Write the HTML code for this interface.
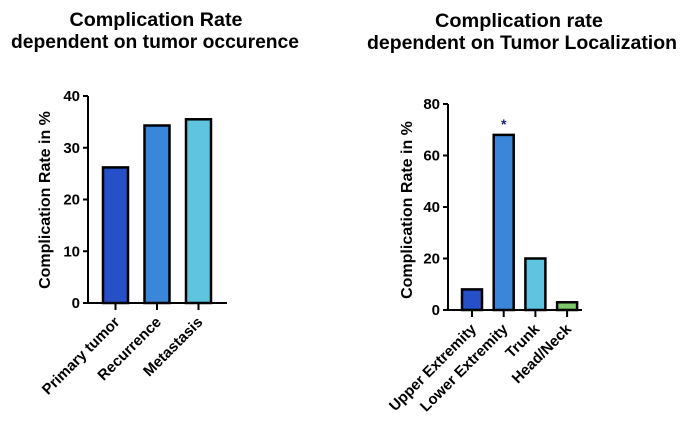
<!DOCTYPE html>
<html><head><meta charset="utf-8"><style>
body{margin:0;background:#fff;}
svg{display:block;font-family:"Liberation Sans",Arial,sans-serif;font-weight:bold;}
</style></head><body>
<svg id="c" width="685" height="423">
<text x="156" y="26" font-size="19" text-anchor="middle" textLength="173" lengthAdjust="spacingAndGlyphs">Complication Rate</text>
<text x="155" y="48" font-size="19" text-anchor="middle" textLength="288" lengthAdjust="spacingAndGlyphs">dependent on tumor occurence</text>
<text x="519" y="27" font-size="19" text-anchor="middle" textLength="168" lengthAdjust="spacingAndGlyphs">Complication rate</text>
<text x="522" y="49" font-size="19" text-anchor="middle" textLength="310" lengthAdjust="spacingAndGlyphs">dependent on Tumor Localization</text>
<text transform="translate(50,200) rotate(-90)" font-size="16" text-anchor="middle">Complication Rate in %</text>
<text transform="translate(412,210) rotate(-90)" font-size="16" text-anchor="middle">Complication Rate in %</text>
<g id="L"></g><g id="R"></g>
</svg>
<script>
const leftCats=["Primary tumor","Recurrence","Metastasis"];
const leftVals=[26.2,34.3,35.5];
const leftTicks=[0,10,20,30,40];
const rightCats=["Upper Extremity","Lower Extremity","Trunk","Head/Neck"];
const rightVals=[8,68,20,3];
const rightTicks=[0,20,40,60,80];
const NS="http://www.w3.org/2000/svg";
function mk(p,t,a){const e=document.createElementNS(NS,t);for(const k in a)e.setAttribute(k,a[k]);p.appendChild(e);return e;}
function draw(g,o){
  const y=v=>o.y0-(v/o.max)*(o.y0-o.yTop);
  const x=i=>o.x1+i*o.step;
  let ax=mk(g,"line",{x1:o.ax,y1:o.yTop,x2:o.ax,y2:o.y0,stroke:"#000","stroke-width":2});
  
  
  let bx=mk(g,"line",{x1:o.ax-5,y1:o.y0,x2:o.xEnd,y2:o.y0,stroke:"#000","stroke-width":2});
  
  
  o.ticks.forEach(t=>{
    mk(g,"line",{x1:o.ax-5,y1:y(t),x2:o.ax,y2:y(t),stroke:"#000","stroke-width":2});
    let tl=mk(g,"text",{x:o.ax-8,y:y(t)+5,"font-size":15,"text-anchor":"end"});
    tl.textContent=t;
    
    
  });
  o.vals.forEach((v,i)=>{
    const cx=x(i)+o.bw/2;
    let r=mk(g,"rect",{x:x(i),y:y(v),width:o.bw,height:o.y0-y(v),fill:o.colors[i],stroke:"#000","stroke-width":2.5});
    
    
    mk(g,"line",{x1:cx,y1:o.y0,x2:cx,y2:o.y0+7,stroke:"#000","stroke-width":2});
    let l=mk(g,"text",{transform:`translate(${cx+5},${o.y0+20}) rotate(-45)`,"font-size":15,"text-anchor":"end"});
    l.textContent=o.cats[i];
    
    
  });
  return {x,y};
}
draw(document.getElementById("L"),{p:"left",y0:303,yTop:96,max:40,ax:88,xEnd:227,x1:103,step:41.5,bw:25,vals:leftVals,cats:leftCats,ticks:leftTicks,colors:["#2650c8","#3a86d8","#5ec4e0"]});
const r=draw(document.getElementById("R"),{p:"right",y0:310,yTop:104,max:80,ax:448,xEnd:582,x1:462,step:31.7,bw:20,vals:rightVals,cats:rightCats,ticks:rightTicks,colors:["#2650c8","#3a86d8","#5ec4e0","#7cc86a"]});
let s=document.createElementNS(NS,"text");
s.setAttribute("x",r.x(1)+10);s.setAttribute("y",r.y(rightVals[1])-6);
s.setAttribute("font-size",14);s.setAttribute("text-anchor","middle");s.setAttribute("fill","#1a237e");
s.textContent="*";


document.getElementById("R").appendChild(s);
</script>
</body></html>
